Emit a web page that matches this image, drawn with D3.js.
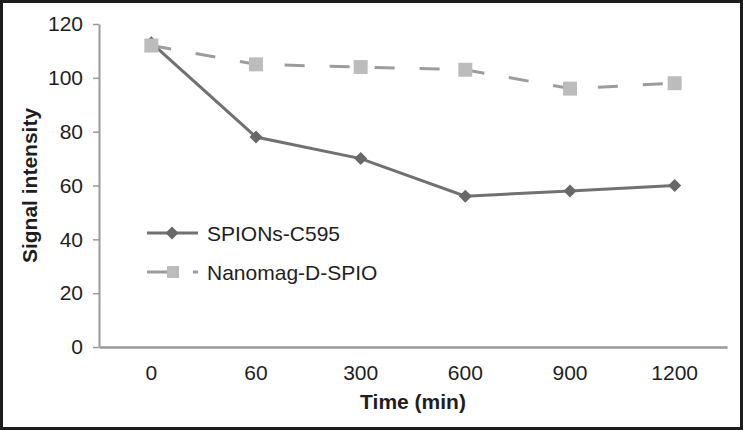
<!DOCTYPE html>
<html>
<head>
<meta charset="utf-8">
<script src="https://cdn.jsdelivr.net/npm/d3@7/dist/d3.min.js"></script>
<style>
  html, body { margin: 0; padding: 0; background: #fff; }
  svg { display: block; }
  text { font-family: "Liberation Sans", Arial, Helvetica, sans-serif; fill: #1e1e1e; }
</style>
</head>
<body>
<svg id="chart" width="743" height="430"></svg>
<script>
const categories = ["0", "60", "300", "600", "900", "1200"];
const spionsValues = [113, 78, 70, 56, 58, 60];
const nanomagValues = [112, 105, 104, 103, 96, 98];
const yTicks = [0, 20, 40, 60, 80, 100, 120];
const seriesNames = ["SPIONs-C595", "Nanomag-D-SPIO"];

const W = 743, H = 430;
const margin = { left: 99, right: 16, top: 24, bottom: 83 };
const svg = d3.select("#chart");
const FS = 21;

svg.append("rect").attr("x", 1.5).attr("y", 1.5).attr("width", W - 3).attr("height", H - 3)
  .attr("fill", "#fff").attr("stroke", "#1c1c1c").attr("stroke-width", 3);

const x = d3.scaleBand().domain(categories).range([margin.left, W - margin.right]);
const y = d3.scaleLinear().domain([0, 120]).range([H - margin.bottom, margin.top]);
const cx = d => x(d) + x.bandwidth() / 2;

const axisColor = "#9a9a9a";

// Y axis
const yAxis = svg.append("g").attr("transform", `translate(${margin.left},0)`)
  .call(d3.axisLeft(y).tickValues(yTicks).tickSize(6).tickPadding(10).tickSizeOuter(0));
yAxis.select(".domain").attr("stroke", axisColor).attr("stroke-width", 2);
yAxis.selectAll(".tick line").attr("stroke", axisColor).attr("stroke-width", 1.5);
yAxis.selectAll(".tick text").attr("font-size", FS).attr("fill", "#1e1e1e");

// X axis
const xAxis = svg.append("g").attr("transform", `translate(0,${H - margin.bottom})`)
  .call(d3.axisBottom(x).tickSize(0).tickPadding(18));
xAxis.select(".domain").attr("stroke", axisColor).attr("stroke-width", 2.5);
xAxis.selectAll(".tick text").attr("font-size", FS).attr("fill", "#1e1e1e");

// Axis titles
svg.append("text").attr("x", (margin.left + W - margin.right) / 2).attr("y", 409)
  .attr("text-anchor", "middle").attr("font-size", FS).attr("font-weight", "bold").text("Time (min)");
svg.append("text").attr("transform", `translate(37,${(margin.top + H - margin.bottom) / 2}) rotate(-90)`)
  .attr("text-anchor", "middle").attr("font-size", FS).attr("font-weight", "bold").text("Signal intensity");

const line = d3.line().x((d, i) => cx(categories[i])).y(d => y(d));

const solidColor = "#717171", diamondColor = "#686868";
const dashColor = "#9c9c9c", squareColor = "#bcbcbc";
const r = 6.5;
const diamondPath = `M0,${-r}L${r},0L0,${r}L${-r},0Z`;

// SPIONs series
svg.append("path").datum(spionsValues).attr("d", line)
  .attr("fill", "none").attr("stroke", solidColor).attr("stroke-width", 3);
svg.selectAll(".dia").data(spionsValues).enter().append("path")
  .attr("d", diamondPath).attr("transform", (d, i) => `translate(${cx(categories[i])},${y(d)})`)
  .attr("fill", diamondColor);

// Nanomag series
svg.append("path").datum(nanomagValues).attr("d", line)
  .attr("fill", "none").attr("stroke", dashColor).attr("stroke-width", 3)
  .attr("stroke-dasharray", "20,25");
svg.selectAll(".sq").data(nanomagValues).enter().append("rect")
  .attr("x", (d, i) => cx(categories[i]) - 7).attr("y", d => y(d) - 7)
  .attr("width", 14).attr("height", 14).attr("fill", squareColor);

// Legend
const lg = svg.append("g");
lg.append("line").attr("x1", 147).attr("x2", 198).attr("y1", 233).attr("y2", 233)
  .attr("stroke", solidColor).attr("stroke-width", 3);
lg.append("path").attr("d", diamondPath).attr("transform", "translate(172,233)").attr("fill", diamondColor);
lg.append("text").attr("x", 207).attr("y", 240.5).attr("font-size", FS).text(seriesNames[0]);

lg.append("line").attr("x1", 147).attr("x2", 198).attr("y1", 272).attr("y2", 272)
  .attr("stroke", dashColor).attr("stroke-width", 3).attr("stroke-dasharray", "21,25");
lg.append("rect").attr("x", 167).attr("y", 266).attr("width", 12).attr("height", 12).attr("fill", squareColor);
lg.append("text").attr("x", 207).attr("y", 279.5).attr("font-size", FS).text(seriesNames[1]);
</script>
</body>
</html>
